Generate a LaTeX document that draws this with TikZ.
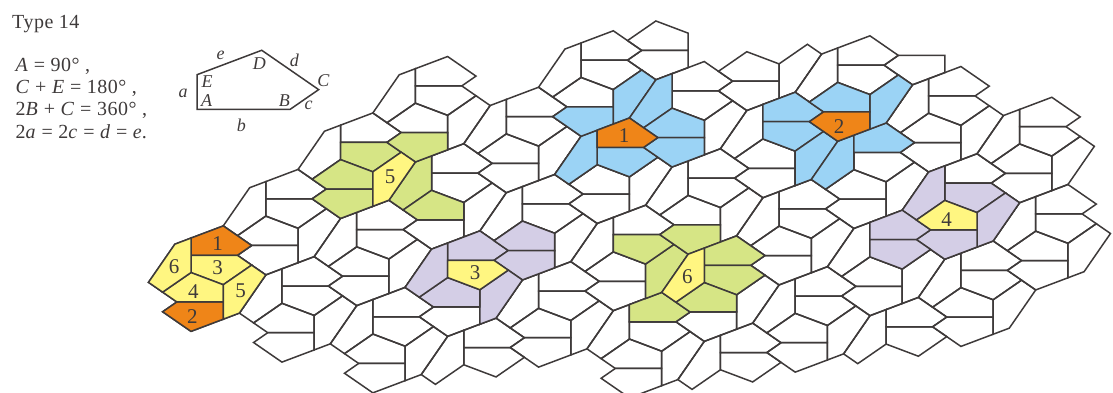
\documentclass[tikz,border=0pt]{standalone}
\usepackage{fontspec,xcolor}
\setmainfont{Liberation Serif}
\definecolor{tileline}{HTML}{3E3A3A}
\definecolor{tileorange}{HTML}{EF8518}
\definecolor{tileyellow}{HTML}{FFF681}
\definecolor{tileblue}{HTML}{9BD3F5}
\definecolor{tilegreen}{HTML}{D6E585}
\definecolor{tilelav}{HTML}{D4CEE6}
\newcommand{\tilea}{(0,0)--(2.693,0)--(3.516,-.569)--(1.871,-1.706)--(0,-1)--cycle}
\newcommand{\tileb}{(1.871,2.706)--(-.822,2.706)--(-1.645,3.275)--(0,4.412)--(1.871,3.706)--cycle}
\newcommand{\tilec}{(0,0)--(2.693,0)--(3.516,.569)--(1.871,1.706)--(0,1)--cycle}
\newcommand{\tiled}{(1.871,2.706)--(-.822,2.706)--(-1.645,2.137)--(0,1)--(1.871,1.706)--cycle}
\newcommand{\tilee}{(4.338,1.137)--(2.807,3.352)--(1.871,3.706)--(1.871,1.706)--(3.516,.569)--cycle}
\newcommand{\tilef}{(-2.467,1.569)--(-.936,-.646)--(0,-1)--(0,1)--(-1.645,2.137)--cycle}
\newcommand{\tile}[4]{\draw[#1,shift={(#2*5.274+#3*4.338,#2*1.783-#3*3.275)}] \csname tile#4\endcsname;}
\tikzset{
    edge/.style={draw=tileline,line width=1.5pt,line join=miter},
    num/.style={font=\fontsize{21}{21}\selectfont,text=tileline,inner sep=0pt},
    lett/.style={font=\fontsize{18}{18}\selectfont\itshape,text=tileline,inner sep=0pt},
    eqn/.style={anchor=base west,inner sep=0pt,text=tileline,font=\fontsize{20}{20}\addfontfeature{LetterSpace=2.5}\selectfont},
}
\begin{document}
\begin{tikzpicture}[x=1pt,y=-1pt]
\useasboundingbox (0,0) rectangle (1113,392);
\begin{scope}[shift={(191,255.3)},x=17.24pt,y=-17.24pt]
    % whole cells
    \foreach \i/\j in {0/0,1/0,2/0,0/1,1/1,2/1,3/1,4/1,0/2,1/2,2/2,3/2,4/2,5/2,0/3,1/3,2/3,3/3,4/3,5/3,6/3,1/4,2/4,3/4,4/4,5/4,6/4,3/5,4/5,5/5}
        \foreach \k in {a,b,c,d,e,f} {\tile{edge}{\i}{\j}{\k}}
    % cells along the rim
    \foreach \i/\j/\k in {3/0/a,3/0/c,3/0/f,5/1/a,5/1/c,5/1/f,6/2/a,6/2/c,6/2/f,1/5/d,1/5/b,2/5/d,2/5/b,2/5/e,3/6/b}
        {\tile{edge}{\i}{\j}{\k}}
    % coloured tiles
    \foreach \i/\j/\k in {2/3/c,2/3/f,1/4/b,1/4/e,2/4/f,2/4/d,2/4/b,3/4/a,3/4/c,3/4/e,4/4/f,4/4/a,3/5/e,3/5/d}
        {\tile{edge,fill=tileblue}{\i}{\j}{\k}}
    \foreach \i/\j/\k in {0/2/c,0/2/d,0/2/b,1/2/f,1/2/d,0/3/b,4/1/a,3/2/e,3/2/c,3/3/b,4/2/a,4/2/c,4/2/d}
        {\tile{edge,fill=tilegreen}{\i}{\j}{\k}}
    \foreach \i/\j/\k in {2/1/a,2/2/d,2/2/b,2/1/e,2/1/d,2/1/f,5/4/c,5/4/f,5/4/e,5/4/b,5/3/a,5/3/c}
        {\tile{edge,fill=tilelav}{\i}{\j}{\k}}
    \foreach \i/\j/\k in {0/0/a,0/0/b,2/3/a,3/5/b}
        {\tile{edge,fill=tileorange}{\i}{\j}{\k}}
    \foreach \i/\j/\k in {0/0/c,0/0/d,0/0/e,0/0/f,2/1/c,5/4/d,0/2/e,4/2/f}
        {\tile{edge,fill=tileyellow}{\i}{\j}{\k}}
\end{scope}
% numbers
\node[num] (one) at (217.7,243.7) {1};
\node[num] (two) at (192.3,317) {2};
\node[num] (three) at (217.7,267.7) {3};
\node[num] (four) at (193.3,291.7) {4};
\node[num] (five) at (240.7,290.3) {5};
\node[num] (six) at (174,266.7) {6};
\node[num] (onem) at (624,136) {1};
\node[num] (twom) at (839,126.7) {2};
\node[num] (threem) at (475,272.7) {3};
\node[num] (fourm) at (946.7,219.3) {4};
\node[num] (fivem) at (390,176.7) {5};
\node[num] (sixm) at (687.3,277) {6};
% key
\draw[edge,shift={(197,109.3)},x=34.6pt,y=-34.6pt] \tilea;
\node[lett] (la) at (183,93.3) {a};
\node[lett] (lb) at (241.3,125.7) {b};
\node[lett] (lc) at (308.7,105.7) {c};
\node[lett] (ld) at (294.3,60.7) {d};
\node[lett] (le) at (220.7,55.7) {e};
\node[lett] (lA) at (206.7,100.7) {A};
\node[lett] (lB) at (284.3,100.7) {B};
\node[lett] (lC) at (323.3,80.7) {C};
\node[lett] (lD) at (259.3,63.3) {D};
\node[lett] (lE) at (207,81.7) {E};
\node[eqn] (title) at (12,28) {Type 14};
\node[eqn] (eqa) at (15.5,71.7) {\textit{A} = 90° ,};
\node[eqn] (eqb) at (15.5,93.5) {\textit{C} + \textit{E} = 180° ,};
\node[eqn] (eqc) at (15.5,115.7) {2\textit{B} + \textit{C} = 360° ,};
\node[eqn] (eqd) at (15.5,138.3) {2\textit{a} = 2\textit{c} = \textit{d} = \textit{e}.};
\end{tikzpicture}
\end{document}
